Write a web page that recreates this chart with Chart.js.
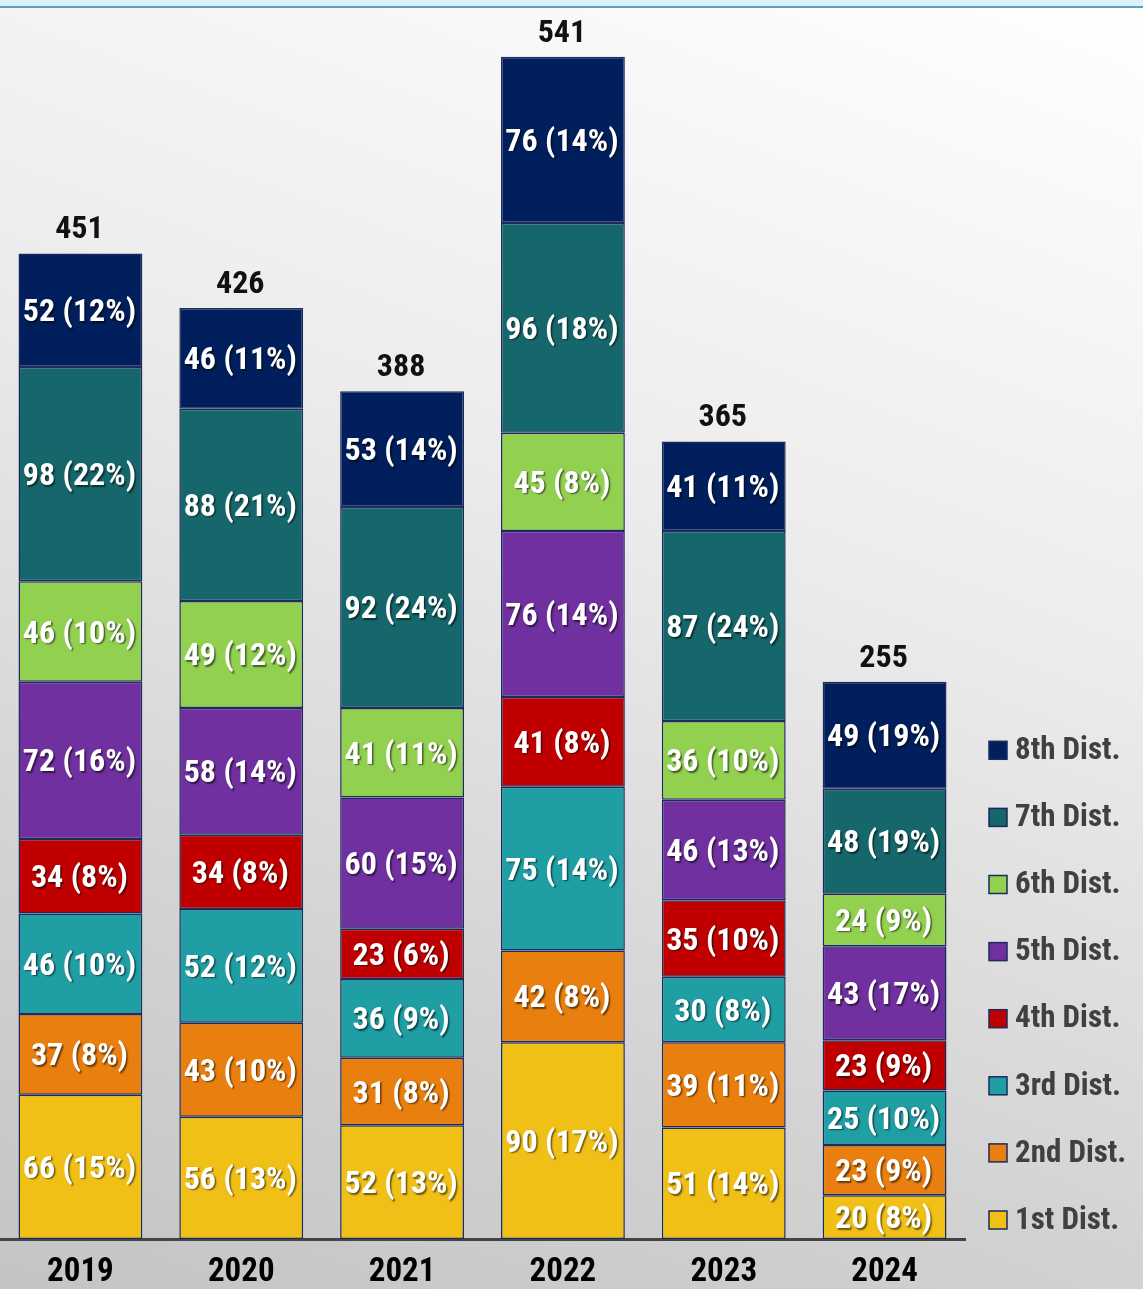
<!DOCTYPE html>
<html>
<head>
<meta charset="utf-8">
<script src="https://cdn.jsdelivr.net/npm/chart.js@4"></script>
<style>
  html, body { margin: 0; padding: 0; }
  body {
    width: 1143px; height: 1289px; overflow: hidden; position: relative;
    background: linear-gradient(200deg, #ffffff 0%, #ececec 40%, #d2d2d2 75%, #c4c4c4 100%);
  }
  #topbar {
    position: absolute; left: 0; top: 0; width: 1143px; height: 6px;
    background: #d9f3f9; border-bottom: 2px solid #5b9fc2; z-index: 2;
  }
  #wrap { position: absolute; left: 0; top: 0; width: 1143px; height: 1289px; }
</style>
</head>
<body>
<div id="topbar"></div>
<div id="wrap"><canvas id="chart"></canvas></div>
<script>
// Jahre und Werte je Distrikt
var years = ['2019', '2020', '2021', '2022', '2023', '2024'];
var dist1 = [66, 56, 52, 90, 51, 20];
var dist2 = [37, 43, 31, 42, 39, 23];
var dist3 = [46, 52, 36, 75, 30, 25];
var dist4 = [34, 34, 23, 41, 35, 23];
var dist5 = [72, 58, 60, 76, 46, 43];
var dist6 = [46, 49, 41, 45, 36, 24];
var dist7 = [98, 88, 92, 96, 87, 48];
var dist8 = [52, 46, 53, 76, 41, 49];
var seriesNames = ['1st Dist.', '2nd Dist.', '3rd Dist.', '4th Dist.', '5th Dist.', '6th Dist.', '7th Dist.', '8th Dist.'];

var colors = ['#f0c017', '#e97f0e', '#1f9ea4', '#c00000', '#7030a0', '#92d050', '#15676b', '#001f5c'];
var fontFam = '"Roboto Condensed", "Liberation Sans Narrow", "DejaVu Sans Condensed", Roboto, sans-serif';

var allSeries = [dist1, dist2, dist3, dist4, dist5, dist6, dist7, dist8];
var totals = years.map(function(y, i) {
    return allSeries.reduce(function(s, d) { return s + d[i]; }, 0);
});

var datasets = allSeries.map(function(d, k) {
    return {
        label: seriesNames[k],
        data: d,
        backgroundColor: colors[k],
        borderColor: '#1c2a5c',
        borderWidth: 1.5,
        borderSkipped: false,
        categoryPercentage: 1,
        barPercentage: 0.77
    };
});

// Beschriftungen in den Segmenten und Summen oben
var labelPlugin = {
    id: 'labels',
    afterDatasetsDraw: function(chart) {
        var ctx = chart.ctx;
        ctx.save();
        ctx.textAlign = 'center';
        ctx.textBaseline = 'middle';
        chart.data.datasets.forEach(function(ds, k) {
            var meta = chart.getDatasetMeta(k);
            meta.data.forEach(function(bar, i) {
                var v = ds.data[i];
                var pct = Math.round(v / totals[i] * 100);
                var yc = (bar.y + bar.base) / 2;
                ctx.font = 'bold 32px ' + fontFam;
                ctx.shadowColor = 'rgba(0,0,0,0.55)';
                ctx.shadowOffsetX = 1.5;
                ctx.shadowOffsetY = 1.5;
                ctx.shadowBlur = 1.5;
                ctx.fillStyle = '#ffffff';
                ctx.fillText(v + ' (' + pct + '%)', bar.x - 1, yc + 3);
            });
        });
        ctx.shadowColor = 'transparent';
        var topMeta = chart.getDatasetMeta(chart.data.datasets.length - 1);
        topMeta.data.forEach(function(bar, i) {
            ctx.font = 'bold 32px ' + fontFam;
            ctx.fillStyle = '#111111';
            ctx.textBaseline = 'alphabetic';
            ctx.fillText(totals[i], bar.x - 1, bar.y - 15);
        });
        ctx.restore();
    },
    afterDraw: function(chart) {
        // Legende rechts, umgekehrte Reihenfolge
        var ctx = chart.ctx;
        var area = chart.chartArea;
        ctx.save();
        ctx.font = 'bold 31px ' + fontFam;
        ctx.textBaseline = 'middle';
        ctx.textAlign = 'left';
        var n = chart.data.datasets.length;
        for (var k = 0; k < n; k++) {
            var yc = area.bottom - 19 - k * 67.1;
            var x0 = area.right + 24;
            ctx.fillStyle = chart.data.datasets[k].backgroundColor;
            ctx.fillRect(x0, yc - 9, 18, 18);
            ctx.strokeStyle = '#1c2a5c';
            ctx.lineWidth = 1.5;
            ctx.strokeRect(x0, yc - 9, 18, 18);
            ctx.fillStyle = '#404040';
            ctx.fillText(chart.data.datasets[k].label, x0 + 26, yc + 1);
        }
        ctx.restore();
    }
};

new Chart(document.getElementById('chart').getContext('2d'), {
    type: 'bar',
    data: { labels: years, datasets: datasets },
    options: {
        responsive: true,
        maintainAspectRatio: false,
        animation: false,
        layout: { padding: { left: 0, right: 178, top: 0, bottom: 0 } },
        plugins: { legend: { display: false }, tooltip: { enabled: false } },
        scales: {
            x: {
                stacked: true,
                grid: { display: false, drawTicks: false },
                border: { display: true, color: '#444444', width: 3 },
                ticks: { color: '#000000', padding: 14, font: { family: fontFam, size: 33, weight: 'bold' } },
                afterFit: function(scale) { scale.height = 50; }
            },
            y: {
                stacked: true,
                display: false,
                min: 0,
                max: 567
            }
        }
    },
    plugins: [labelPlugin]
});
</script>
</body>
</html>
